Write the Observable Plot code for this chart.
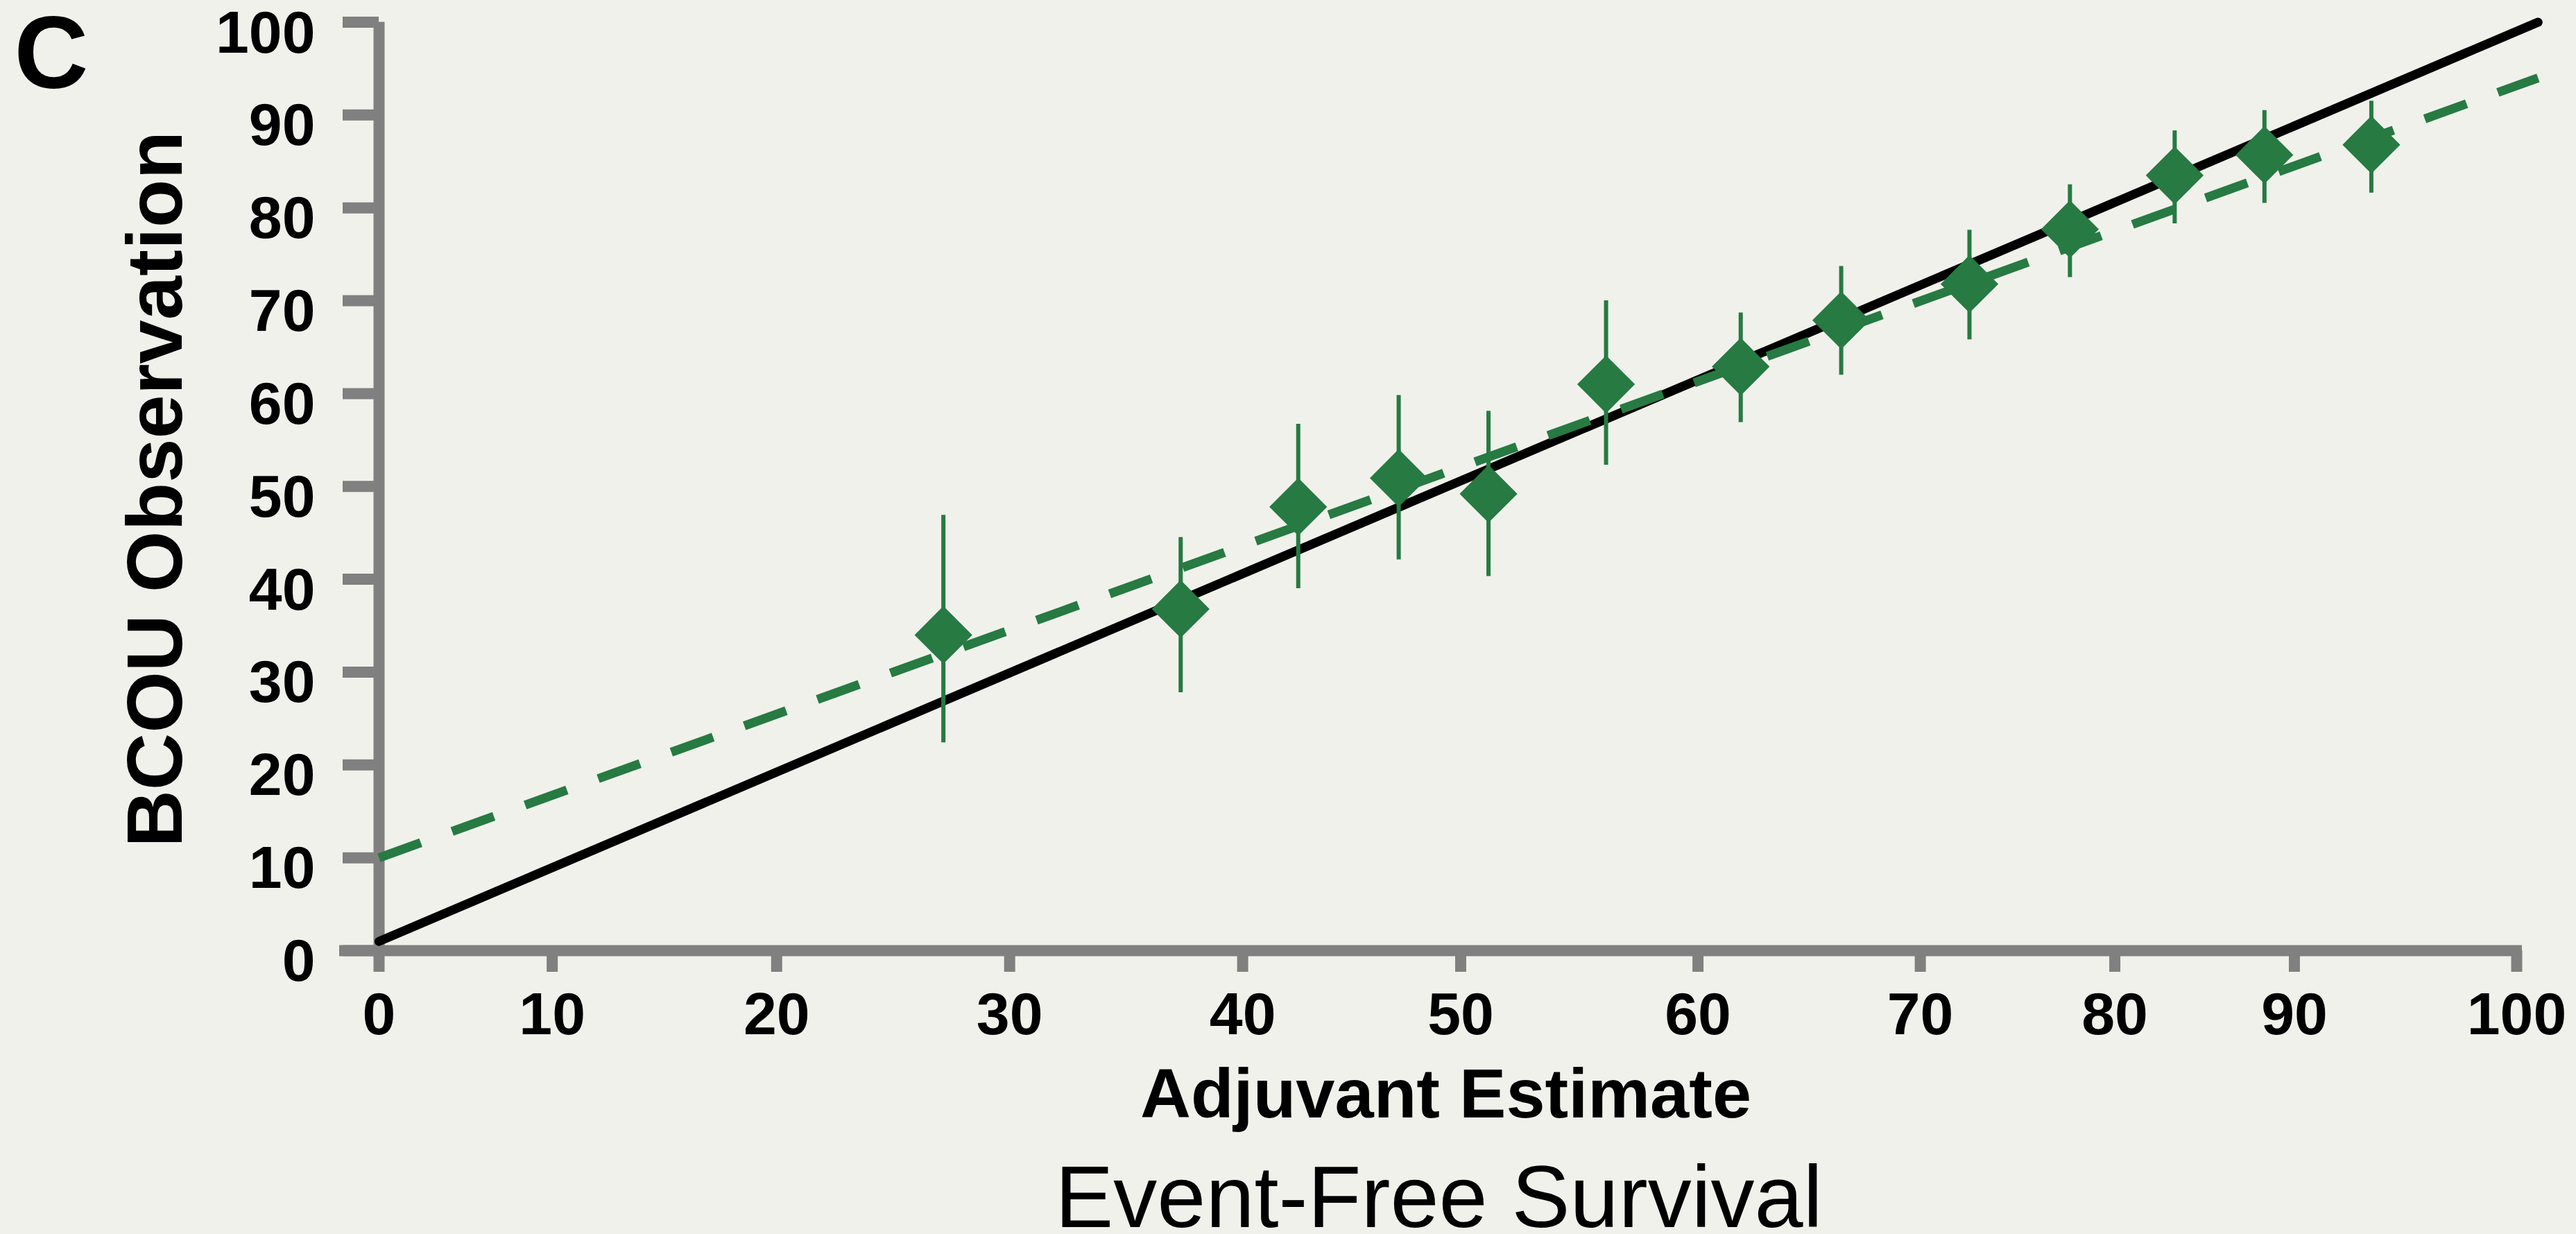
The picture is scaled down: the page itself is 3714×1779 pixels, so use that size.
<!DOCTYPE html>
<html>
<head>
<meta charset="utf-8">
<script src="https://cdn.jsdelivr.net/npm/d3@7"></script>
<script src="https://cdn.jsdelivr.net/npm/@observablehq/plot@0.6"></script>
<style>
  html, body { margin: 0; padding: 0; background: #F0F1EB; }
  #chart svg { display: block; }
</style>
</head>
<body>
<div id="chart"></div>
<script>
// ---- data ----
const adjuvantEstimate = [26.4, 37.5, 43.0, 47.7, 51.9, 57.4, 63.7, 68.4, 74.4, 79.1, 84.0, 88.2, 93.2];
const bcouObservation  = [34.0, 36.8, 47.8, 50.9, 49.2, 61.0, 62.9, 67.9, 71.8, 77.7, 83.5, 85.7, 86.8];
const ciLower          = [22.4, 27.8, 39.0, 42.1, 40.3, 52.3, 56.9, 62.0, 65.8, 72.5, 78.3, 80.5, 81.6];
const ciUpper          = [46.9, 44.5, 56.7, 59.8, 58.1, 70.0, 68.7, 73.7, 77.6, 82.5, 88.3, 90.5, 91.5];

const identityX = [0, 101];
const identityY = [1, 100];
const fitX = [0, 101];
const fitY = [10, 94];

// hand-placed tick positions in the original figure (axis units) and their labels
const xTickPositions = [0, 8.1, 18.6, 29.5, 40.4, 50.6, 61.7, 72.1, 81.2, 89.6, 100];
const xTickLabels = ["0", "10", "20", "30", "40", "50", "60", "70", "80", "90", "100"];
const yTicks = [0, 10, 20, 30, 40, 50, 60, 70, 80, 90, 100];

const xTitle = "Adjuvant Estimate";
const yTitle = "BCOU Observation";
const caption = "Event-Free Survival";
const panelLetter = "C";

// ---- derived tables ----
const points = adjuvantEstimate.map((x, i) => ({x, y: bcouObservation[i], lo: ciLower[i], hi: ciUpper[i]}));
const identityLine = identityX.map((x, i) => ({x, y: identityY[i]}));
const fitLine = fitX.map((x, i) => ({x, y: fitY[i]}));

const GREEN = "#267A42";
const GRAY = "#808080";
const FONT = "'Liberation Sans', Arial, Helvetica, sans-serif";

const chart = Plot.plot({
  width: 3714,
  height: 1779,
  marginLeft: 546,
  marginRight: 86,
  marginTop: 31.5,
  marginBottom: 409,
  style: {background: "#F0F1EB", fontFamily: FONT, overflow: "visible"},
  x: {domain: [0, 100], label: null},
  y: {domain: [0, 100], label: null},
  marks: [
    // axis lines
    Plot.ruleX([0], {stroke: GRAY, strokeWidth: 16}),
    Plot.ruleY([0], {stroke: GRAY, strokeWidth: 16, insetLeft: -57, insetRight: -8}),
    // y ticks
    Plot.axisY({ticks: yTicks, tickSize: 52, stroke: GRAY, strokeWidth: 16, tickFormat: () => "", label: null}),
    // y tick labels
    Plot.axisY({ticks: yTicks, tickSize: 0, tickPadding: 92, dy: 16, fontSize: 86, fontWeight: "bold",
                fill: "black", label: null}),
    // x ticks + labels
    Plot.axisX({ticks: xTickPositions, tickFormat: (d, i) => xTickLabels[i], tickSize: 31, tickPadding: 28,
                stroke: GRAY, strokeWidth: 16, fill: "black", fontSize: 86, fontWeight: "bold", label: null}),
    // identity line
    Plot.line(identityLine, {x: "x", y: "y", stroke: "black", strokeWidth: 13}),
    // fitted dashed line
    Plot.line(fitLine, {x: "x", y: "y", stroke: GREEN, strokeWidth: 13, strokeDasharray: "64,48", strokeLinecap: "butt"}),
    // error bars
    Plot.ruleX(points, {x: "x", y1: "lo", y2: "hi", stroke: GREEN, strokeWidth: 6}),
    // diamonds
    Plot.dot(points, {x: "x", y: "y", symbol: "diamond2", r: 37.5, fill: GREEN, stroke: null}),
    // titles
    Plot.text([xTitle], {text: d => d, frameAnchor: "bottom", textAnchor: "middle", lineAnchor: "top", dx: -3, dy: 169,
                         fontSize: 101, fontWeight: "bold", fill: "black"}),
    Plot.text([caption], {text: d => d, frameAnchor: "bottom", textAnchor: "middle", lineAnchor: "top", dx: -13, dy: 309,
                          fontSize: 126, fontWeight: "normal", fill: "black"}),
    Plot.text([yTitle], {text: d => d, frameAnchor: "left", textAnchor: "middle", lineAnchor: "middle", rotate: -90,
                         dx: -321, dy: 4, fontSize: 114, fontWeight: "bold", fill: "black"}),
    Plot.text([panelLetter], {text: d => d, frameAnchor: "top-left", textAnchor: "start", lineAnchor: "top",
                              dx: -526, dy: -10, fontSize: 148, fontWeight: "bold", fill: "black"})
  ]
});
document.getElementById("chart").appendChild(chart);
</script>
</body>
</html>
